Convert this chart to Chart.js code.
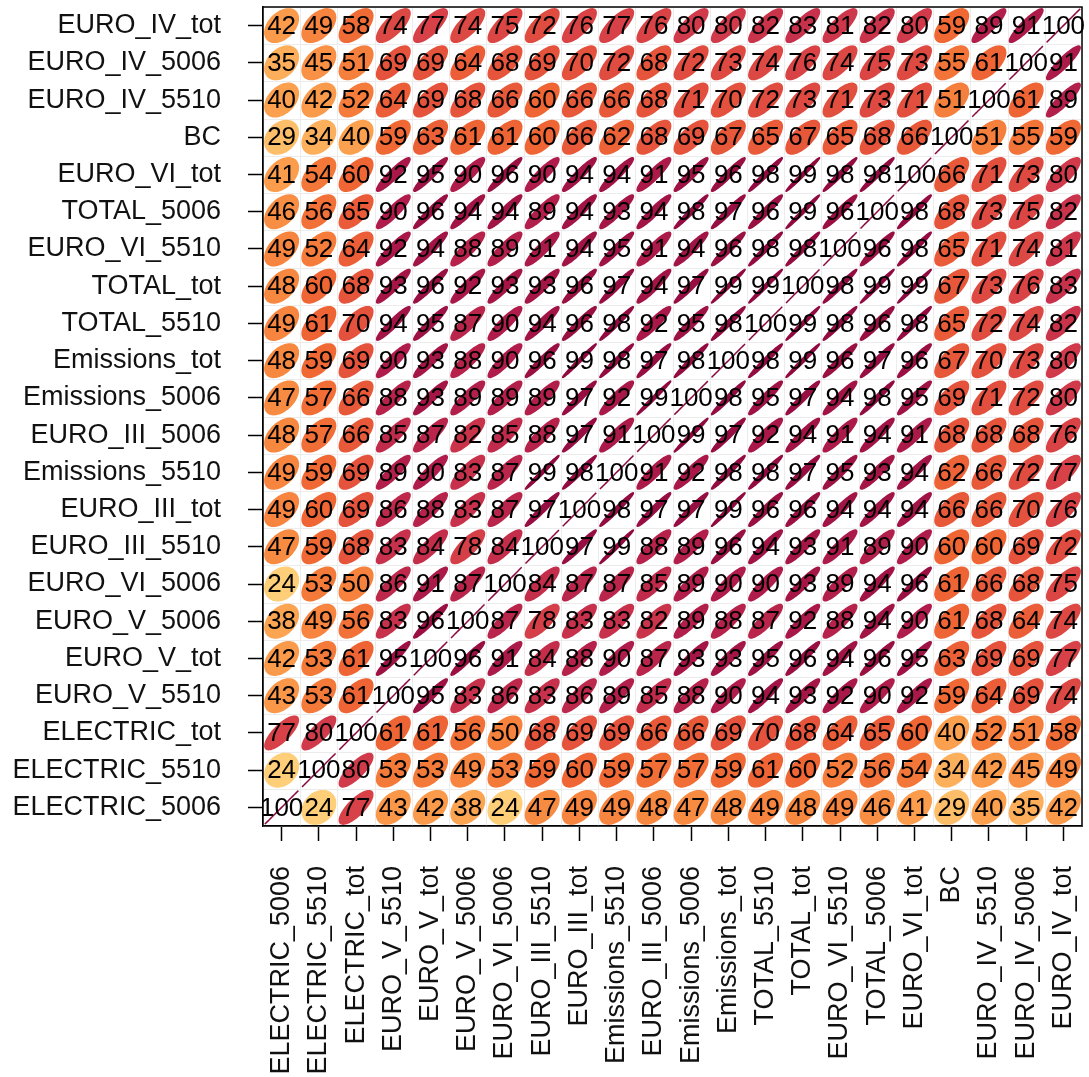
<!DOCTYPE html>
<html>
<head>
<meta charset="utf-8">
<script src="https://cdn.jsdelivr.net/npm/chart.js@4.4.1/dist/chart.umd.min.js"></script>
<style>
  html, body { margin: 0; padding: 0; background: #fff; }
  #wrap { width: 1089px; height: 1077px; position: relative; }
</style>
</head>
<body>
<div id="wrap"><canvas id="corr"></canvas></div>
<script>
// correlation matrix (x100), rows listed top -> bottom, columns left -> right
const rowLabels = [
  "EURO_IV_tot", "EURO_IV_5006", "EURO_IV_5510", "BC", "EURO_VI_tot", "TOTAL_5006",
  "EURO_VI_5510", "TOTAL_tot", "TOTAL_5510", "Emissions_tot", "Emissions_5006",
  "EURO_III_5006", "Emissions_5510", "EURO_III_tot", "EURO_III_5510", "EURO_VI_5006",
  "EURO_V_5006", "EURO_V_tot", "EURO_V_5510", "ELECTRIC_tot", "ELECTRIC_5510", "ELECTRIC_5006"
];
const colLabels = [
  "ELECTRIC_5006", "ELECTRIC_5510", "ELECTRIC_tot", "EURO_V_5510", "EURO_V_tot", "EURO_V_5006",
  "EURO_VI_5006", "EURO_III_5510", "EURO_III_tot", "Emissions_5510", "EURO_III_5006",
  "Emissions_5006", "Emissions_tot", "TOTAL_5510", "TOTAL_tot", "EURO_VI_5510", "TOTAL_5006",
  "EURO_VI_tot", "BC", "EURO_IV_5510", "EURO_IV_5006", "EURO_IV_tot"
];
const values = [
  [42, 49, 58, 74, 77, 74, 75, 72, 76, 77, 76, 80, 80, 82, 83, 81, 82, 80, 59, 89, 91, 100],
  [35, 45, 51, 69, 69, 64, 68, 69, 70, 72, 68, 72, 73, 74, 76, 74, 75, 73, 55, 61, 100, 91],
  [40, 42, 52, 64, 69, 68, 66, 60, 66, 66, 68, 71, 70, 72, 73, 71, 73, 71, 51, 100, 61, 89],
  [29, 34, 40, 59, 63, 61, 61, 60, 66, 62, 68, 69, 67, 65, 67, 65, 68, 66, 100, 51, 55, 59],
  [41, 54, 60, 92, 95, 90, 96, 90, 94, 94, 91, 95, 96, 98, 99, 98, 98, 100, 66, 71, 73, 80],
  [46, 56, 65, 90, 96, 94, 94, 89, 94, 93, 94, 98, 97, 96, 99, 96, 100, 98, 68, 73, 75, 82],
  [49, 52, 64, 92, 94, 88, 89, 91, 94, 95, 91, 94, 96, 98, 98, 100, 96, 98, 65, 71, 74, 81],
  [48, 60, 68, 93, 96, 92, 93, 93, 96, 97, 94, 97, 99, 99, 100, 98, 99, 99, 67, 73, 76, 83],
  [49, 61, 70, 94, 95, 87, 90, 94, 96, 98, 92, 95, 98, 100, 99, 98, 96, 98, 65, 72, 74, 82],
  [48, 59, 69, 90, 93, 88, 90, 96, 99, 98, 97, 98, 100, 98, 99, 96, 97, 96, 67, 70, 73, 80],
  [47, 57, 66, 88, 93, 89, 89, 89, 97, 92, 99, 100, 98, 95, 97, 94, 98, 95, 69, 71, 72, 80],
  [48, 57, 66, 85, 87, 82, 85, 88, 97, 91, 100, 99, 97, 92, 94, 91, 94, 91, 68, 68, 68, 76],
  [49, 59, 69, 89, 90, 83, 87, 99, 98, 100, 91, 92, 98, 98, 97, 95, 93, 94, 62, 66, 72, 77],
  [49, 60, 69, 86, 88, 83, 87, 97, 100, 98, 97, 97, 99, 96, 96, 94, 94, 94, 66, 66, 70, 76],
  [47, 59, 68, 83, 84, 78, 84, 100, 97, 99, 88, 89, 96, 94, 93, 91, 89, 90, 60, 60, 69, 72],
  [24, 53, 50, 86, 91, 87, 100, 84, 87, 87, 85, 89, 90, 90, 93, 89, 94, 96, 61, 66, 68, 75],
  [38, 49, 56, 83, 96, 100, 87, 78, 83, 83, 82, 89, 88, 87, 92, 88, 94, 90, 61, 68, 64, 74],
  [42, 53, 61, 95, 100, 96, 91, 84, 88, 90, 87, 93, 93, 95, 96, 94, 96, 95, 63, 69, 69, 77],
  [43, 53, 61, 100, 95, 83, 86, 83, 86, 89, 85, 88, 90, 94, 93, 92, 90, 92, 59, 64, 69, 74],
  [77, 80, 100, 61, 61, 56, 50, 68, 69, 69, 66, 66, 69, 70, 68, 64, 65, 60, 40, 52, 51, 58],
  [24, 100, 80, 53, 53, 49, 53, 59, 60, 59, 57, 57, 59, 61, 60, 52, 56, 54, 34, 42, 45, 49],
  [100, 24, 77, 43, 42, 38, 24, 47, 49, 49, 48, 47, 48, 49, 48, 49, 46, 41, 29, 40, 35, 42]
];

const FONT = "'Liberation Sans', Arial, sans-serif";

// colour ramp for r in [0.2, 1]
const STOPS = [
  [0.20, [254, 219, 132]], [0.30, [253, 187, 102]], [0.40, [251, 160, 78]],
  [0.50, [246, 130, 61]], [0.60, [239, 102, 52]], [0.70, [228, 81, 61]],
  [0.80, [209, 58, 75]], [0.90, [176, 28, 75]], [1.00, [140, 8, 62]]
];
function rampColor(r) {
  if (r <= STOPS[0][0]) return `rgb(${STOPS[0][1].join(",")})`;
  for (let i = 1; i < STOPS.length; i++) {
    if (r <= STOPS[i][0]) {
      const [r0, c0] = STOPS[i - 1], [r1, c1] = STOPS[i];
      const t = (r - r0) / (r1 - r0);
      const c = c0.map((v, k) => Math.round(v + (c1[k] - v) * t));
      return `rgb(${c.join(",")})`;
    }
  }
  return `rgb(${STOPS[STOPS.length - 1][1].join(",")})`;
}

const points = [];
values.forEach((row, i) => row.forEach((v, j) => points.push({ x: j, y: i, v })));

const ellipsePlugin = {
  id: "corrEllipses",
  beforeDatasetsDraw(chart) {
    const { ctx, chartArea: a, scales: { x, y } } = chart;
    ctx.save();
    ctx.strokeStyle = "#ececec";
    ctx.lineWidth = 1;
    for (let k = 0; k <= colLabels.length; k++) {
      const px = Math.round(x.getPixelForValue(k - 0.5)) + 0.5;
      ctx.beginPath(); ctx.moveTo(px, a.top); ctx.lineTo(px, a.bottom); ctx.stroke();
    }
    for (let k = 0; k <= rowLabels.length; k++) {
      const py = Math.round(y.getPixelForValue(k - 0.5)) + 0.5;
      ctx.beginPath(); ctx.moveTo(a.left, py); ctx.lineTo(a.right, py); ctx.stroke();
    }
    ctx.restore();
  },
  afterDatasetsDraw(chart) {
    const { ctx, chartArea: a, scales: { x, y } } = chart;
    const meta = chart.getDatasetMeta(0);
    const data = chart.data.datasets[0].data;
    const sx = Math.abs(x.getPixelForValue(1) - x.getPixelForValue(0)) * 0.45;
    const sy = Math.abs(y.getPixelForValue(1) - y.getPixelForValue(0)) * 0.45;
    ctx.save();
    // ellipses first
    meta.data.forEach((el, k) => {
      const r = data[k].v / 100;
      const d = Math.acos(Math.min(1, r));
      const col = rampColor(r);
      ctx.beginPath();
      for (let s = 0; s <= 72; s++) {
        const t = (s / 72) * Math.PI * 2;
        const ex = el.x + sx * Math.cos(t + d / 2);
        const ey = el.y - sy * Math.cos(t - d / 2);
        s === 0 ? ctx.moveTo(ex, ey) : ctx.lineTo(ex, ey);
      }
      ctx.closePath();
      ctx.fillStyle = col;
      ctx.strokeStyle = col;
      ctx.lineWidth = 1.5;
      ctx.fill();
      ctx.stroke();
    });
    // then the coefficients on top
    ctx.fillStyle = "#000";
    ctx.font = `26px ${FONT}`;
    ctx.textAlign = "center";
    ctx.textBaseline = "middle";
    meta.data.forEach((el, k) => {
      ctx.fillText(String(data[k].v), el.x, el.y + 1);
    });
    // frame
    ctx.strokeStyle = "#000";
    ctx.lineWidth = 1.5;
    ctx.strokeRect(a.left, a.top, a.right - a.left, a.bottom - a.top);
    ctx.restore();
  }
};

new Chart(document.getElementById("corr"), {
  type: "scatter",
  data: {
    datasets: [{ data: points, pointRadius: 0, pointHoverRadius: 0, backgroundColor: "transparent" }]
  },
  options: {
    responsive: true,
    maintainAspectRatio: false,
    animation: false,
    events: [],
    layout: { padding: { top: 7, right: 7, left: 0, bottom: 0 } },
    plugins: { legend: { display: false }, tooltip: { enabled: false } },
    scales: {
      x: {
        type: "linear",
        min: -0.5, max: 21.5,
        afterBuildTicks: (s) => { s.ticks = colLabels.map((_, i) => ({ value: i })); },
        afterFit: (s) => { s.height = 251; s.paddingLeft = 0; s.paddingRight = 0; },
        grid: { drawOnChartArea: false, drawTicks: true, tickLength: 15, tickColor: "#000", tickWidth: 1.5 },
        border: { display: true, color: "#000", width: 1.5 },
        ticks: {
          autoSkip: false, minRotation: 90, maxRotation: 90, padding: 25,
          color: "#111", font: { family: FONT, size: 27 },
          callback: (v) => colLabels[v]
        }
      },
      y: {
        type: "linear",
        reverse: true,
        min: -0.5, max: 21.5,
        afterBuildTicks: (s) => { s.ticks = rowLabels.map((_, i) => ({ value: i })); },
        afterFit: (s) => { s.width = 263; s.paddingTop = 0; s.paddingBottom = 0; },
        grid: { drawOnChartArea: false, drawTicks: true, tickLength: 15, tickColor: "#000", tickWidth: 1.5 },
        border: { display: true, color: "#000", width: 1.5 },
        ticks: {
          autoSkip: false, padding: 27,
          color: "#111", font: { family: FONT, size: 27 },
          callback: (v) => rowLabels[v]
        }
      }
    }
  },
  plugins: [ellipsePlugin]
});
</script>
</body>
</html>
